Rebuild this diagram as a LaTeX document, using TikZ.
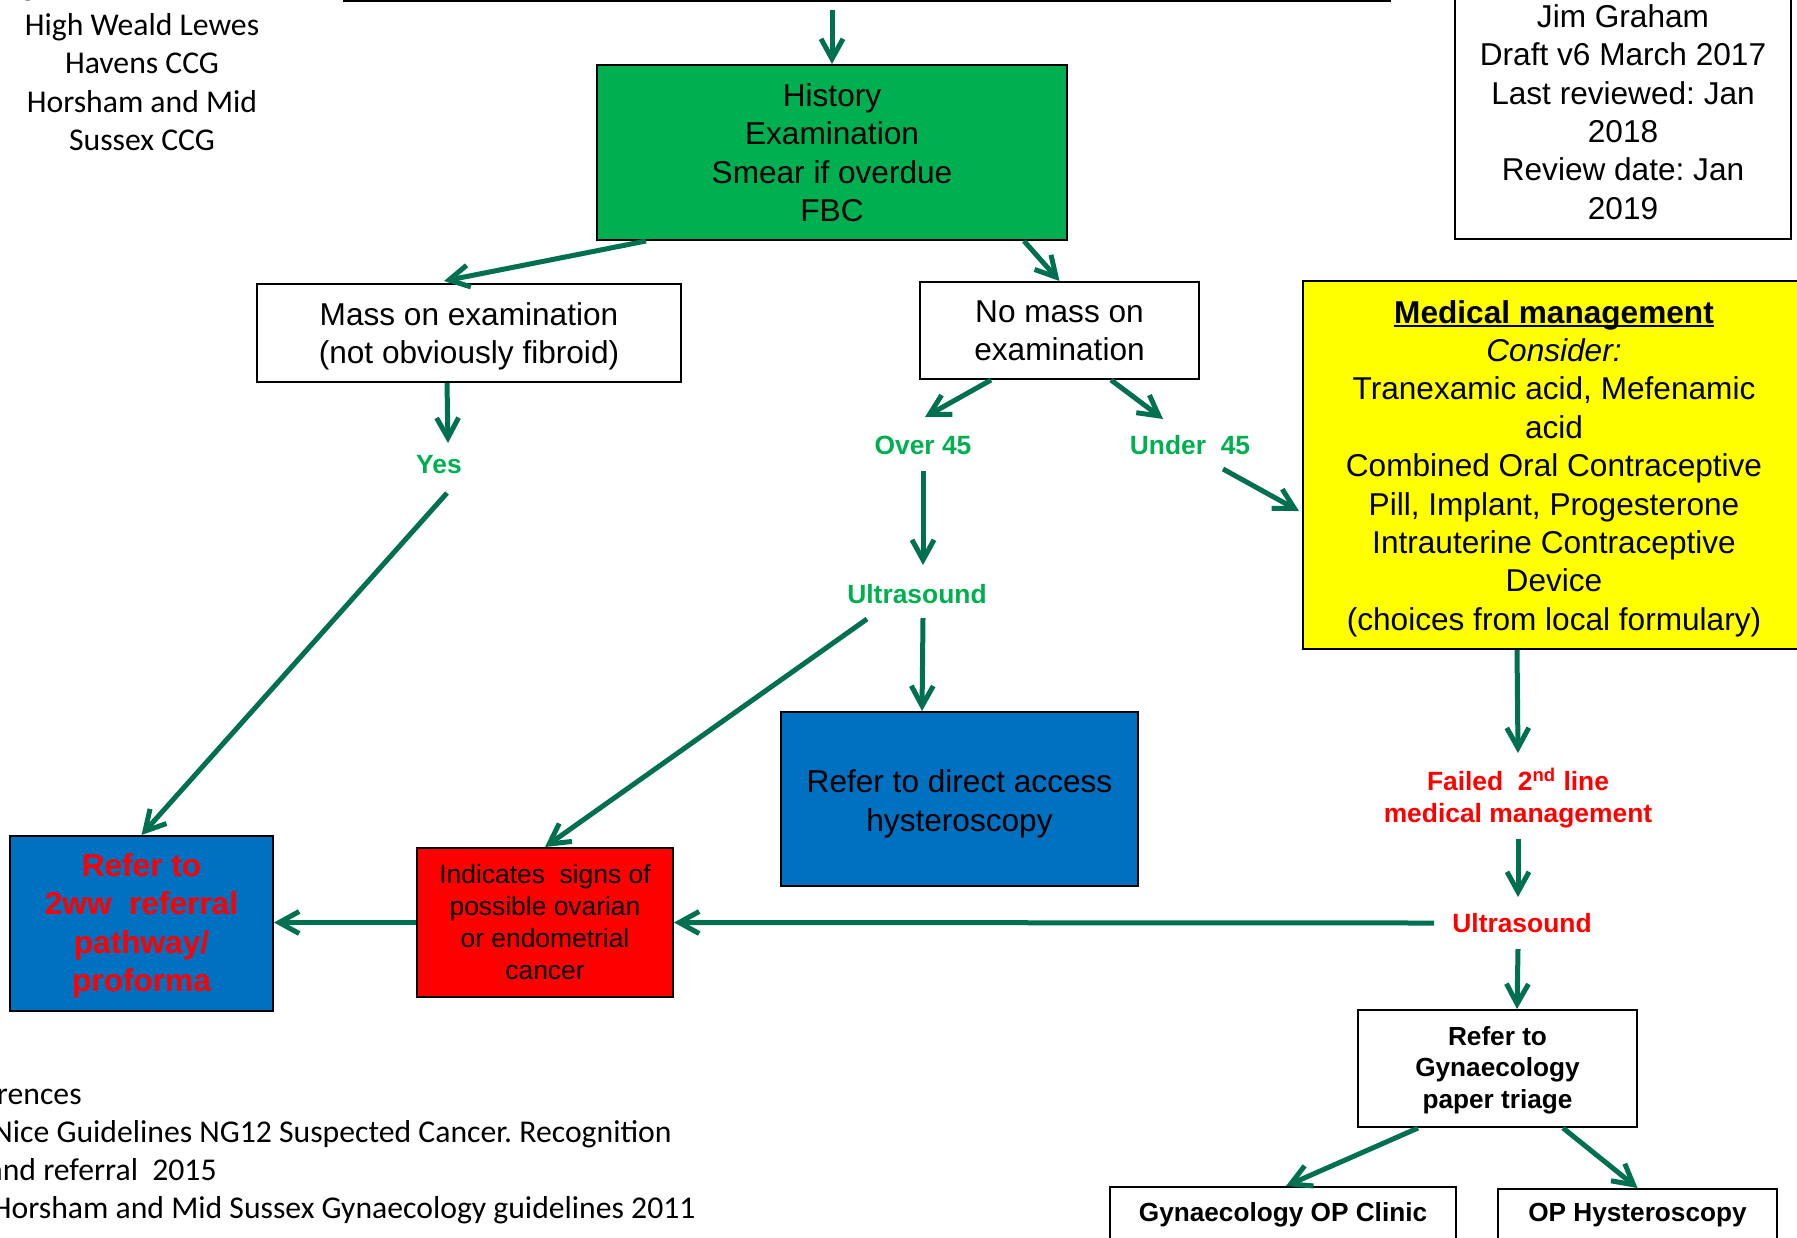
\documentclass[tikz,border=0pt]{standalone}
\usepackage{fontspec}
\setmainfont{Liberation Sans}
\newfontfamily\calibri{Carlito}
\usetikzlibrary{arrows.meta,calc}
\definecolor{arrowgreen}{RGB}{0,112,80}
\definecolor{boxgreen}{RGB}{0,176,80}
\definecolor{lblgreen}{RGB}{0,176,80}
\definecolor{boxblue}{RGB}{0,112,192}
\definecolor{boxred}{RGB}{255,0,0}
\definecolor{boxyellow}{RGB}{255,255,0}
\newcommand\mainsz{\fontsize{15.8pt}{19.2pt}\selectfont}
\newcommand\lblsz{\fontsize{13.2pt}{15.8pt}\selectfont}
\newcommand\calsz{\fontsize{15.85pt}{19.25pt}\selectfont}
\newcommand\toppad[1]{\rule{0pt}{#1}}
\newcommand\myul[1]{\setbox0\hbox{#1}\rlap{\rule[-2.2pt]{\wd0}{1pt}}\box0}
\frenchspacing
\begin{document}
\frenchspacing
\begin{tikzpicture}[x=0.5pt,y=-0.5pt,
  box/.style={draw=black,line width=1pt,inner sep=0pt,align=center,font=\mainsz},
  arr/.style={draw=arrowgreen,line width=2.5pt,-{Straight Barb[length=10pt,width=11pt]}},
  lbl/.style={inner sep=0pt,align=center,font=\lblsz\bfseries},
  caltext/.style={inner sep=0pt,font=\calibri\calsz}]
\useasboundingbox (0,0) rectangle (1797,1237);

% top-left text
\node[caltext,anchor=base] (gfrag) at (28,-5) {g};
\node[caltext,align=center] (ccg) at (142,82) {High Weald Lewes\\Havens CCG\\Horsham and Mid\\Sussex CCG};

% boxes
\node[box,minimum width=523pt,minimum height=50.5pt] (topbox) at (867,-49.5) {};
\node[box,minimum width=168pt,minimum height=127pt] (jim) at (1623,112)
  {Jim Graham\\Draft v6 March 2017\\Last reviewed: Jan\\2018\\Review date: Jan\\2019};
\node[box,fill=boxgreen,minimum width=235pt,minimum height=87.5pt] (green) at (832,152.5)
  {History\\Examination\\Smear if overdue\\FBC};
\node[box,minimum width=212pt,minimum height=49pt] (mass) at (469,333)
  {\toppad{14.7pt}Mass on examination\\(not obviously fibroid)};
\node[box,minimum width=139.5pt,minimum height=48.5pt] (nomass) at (1059.5,330.5)
  {No mass on\\examination};
\node[box,fill=boxyellow,minimum width=251pt,minimum height=184pt] (medical) at (1554,465)
  {\toppad{14.9pt}\myul{\textbf{Medical management}}\\\textit{Consider:}\\Tranexamic acid, Mefenamic\\acid\\Combined Oral Contraceptive\\Pill, Implant, Progesterone\\Intrauterine Contraceptive\\Device\\(choices from local formulary)};
\node[box,fill=boxblue,minimum width=178.5pt,minimum height=87pt] (hyst) at (959.5,799)
  {\toppad{16.1pt}Refer to direct access\\hysteroscopy};
\node[box,fill=boxblue,text=boxred,font=\mainsz\bfseries,minimum width=131.5pt,minimum height=87.5pt] (twoww) at (141.5,923.5)
  {\toppad{13.8pt}Refer to\\2ww\ \ referral\\pathway/\\proforma};
\node[box,fill=boxred,font=\fontsize{13.2pt}{16pt}\selectfont,minimum width=128pt,minimum height=74.5pt] (red) at (545,922.5)
  {Indicates\ \ signs of\\possible ovarian\\or endometrial\\cancer};
\node[box,font=\fontsize{13.1pt}{15.75pt}\selectfont\bfseries,minimum width=139.5pt,minimum height=58.5pt] (triage) at (1497.5,1068.5)
  {\toppad{11.2pt}Refer to\\Gynaecology\\paper triage};
\node[box,font=\fontsize{13.1pt}{15.75pt}\selectfont\bfseries,minimum width=173pt,minimum height=28pt] (gynop) at (1283,1215)
  {Gynaecology OP Clinic};
\node[box,font=\fontsize{13.1pt}{15.75pt}\selectfont\bfseries,minimum width=139.5pt,minimum height=26pt] (ophyst) at (1637.5,1215)
  {OP Hysteroscopy};

% labels
\node[lbl,text=lblgreen] (yes) at (439,465) {Yes};
\node[lbl,text=lblgreen] (over) at (923,445) {Over 45};
\node[lbl,text=lblgreen] (under) at (1190,445) {Under\ \ 45};
\node[lbl,text=lblgreen] (us1) at (917,594) {Ultrasound};
\node[lbl,text=boxred] (failed) at (1518,798) {Failed\ \ 2\textsuperscript{nd} line\\medical management};
\node[lbl,text=boxred] (us2) at (1522,923) {Ultrasound};

% references
\node[caltext,anchor=base east] (ref0) at (82,1104.5) {References};
\node[caltext,anchor=base east] (ref1) at (672,1142.5) {Nice Guidelines NG12 Suspected Cancer. Recognition};
\node[caltext,anchor=base east] (ref2) at (217,1180.5) {and referral\ \ 2015};
\node[caltext,anchor=base east] (ref3) at (696,1218.5) {Horsham and Mid Sussex Gynaecology guidelines 2011};

% connectors
\draw[arr,shorten <=4pt] (topbox.south -| green.north) -- (green.north);
\draw[arr] ($(green.south west)+(50,0)$) -- ($(mass.north west)+(188,-2)$);
\draw[arr] ($(green.south east)+(-44,0)$) -- (nomass.north);
\draw[arr] ($(mass.south west)+(191,0)$) -- ($(yes.center)+(9,-22)$);
\draw[arr] ($(yes.center)+(8,28)$) -- (twoww.north);
\draw[arr] ($(nomass.south west)+(72,0)$) -- ($(over.center)+(2,-28)$);
\draw[arr] ($(nomass.south east)+(-89,0)$) -- ($(under.center)+(-27,-26)$);
\draw[arr] ($(over.center)+(0,26)$) -- ($(us1.center)+(6,-29)$);
\draw[arr] ($(under.center)+(33,24)$) -- ($(medical.north west)+(-3,231)$);
\draw[arr] ($(us1.center)+(6,24)$) -- ($(hyst.north west)+(142,0)$);
\draw[arr] ($(us1.center)+(-50,25)$) -- (red.north);
\draw[arr] (red.west) -- (red.west -| twoww.east);
\draw[arr] ($(us2.center)+(-88,0)$) -- (red.east);
\draw[arr] ($(medical.south west)+(215,0)$) -- ($(failed.center)+(0,-45)$);
\draw[arr] ($(failed.center)+(0,41)$) -- ($(us2.center)+(-4,-26)$);
\draw[arr] ($(us2.center)+(-4,26)$) -- ($(triage.north west)+(160,0)$);
\draw[arr] ($(triage.south west)+(61,0)$) -- ($(gynop.north)+(3,0)$);
\draw[arr] ($(triage.south west)+(206,0)$) -- (ophyst.north);
\end{tikzpicture}
\end{document}
